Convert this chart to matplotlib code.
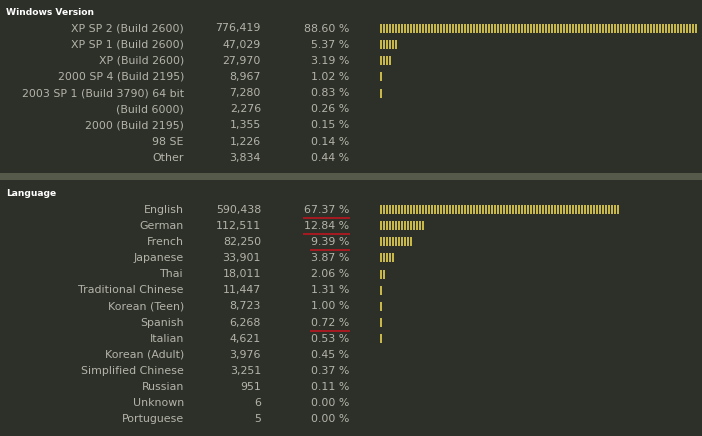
import matplotlib
matplotlib.use("Agg")
import matplotlib.pyplot as plt

# data
win_labels = ["XP SP 2 (Build 2600)", "XP SP 1 (Build 2600)", "XP (Build 2600)",
              "2000 SP 4 (Build 2195)", "2003 SP 1 (Build 3790) 64 bit",
              "(Build 6000)", "2000 (Build 2195)", "98 SE", "Other"]
win_counts = [776419, 47029, 27970, 8967, 7280, 2276, 1355, 1226, 3834]
win_pct = [88.60, 5.37, 3.19, 1.02, 0.83, 0.26, 0.15, 0.14, 0.44]

lang_labels = ["English", "German", "French", "Japanese", "Thai",
               "Traditional Chinese", "Korean (Teen)", "Spanish", "Italian",
               "Korean (Adult)", "Simplified Chinese", "Russian", "Unknown",
               "Portuguese"]
lang_counts = [590438, 112511, 82250, 33901, 18011, 11447, 8723, 6268, 4621,
               3976, 3251, 951, 6, 5]
lang_pct = [67.37, 12.84, 9.39, 3.87, 2.06, 1.31, 1.00, 0.72, 0.53, 0.45,
            0.37, 0.11, 0.00, 0.00]
# percentages marked with a red underline
lang_marked = ["English", "German", "French", "Spanish"]

BG = "#2c3028"
TXT = "#b4b4aa"
BAR = "#c8b84a"
SEP = "#555a4a"
PX_PER_PCT = 3.58
SEG = 3.0
FS = 7.9

fig = plt.figure(figsize=(7.02, 4.36), dpi=100, facecolor=BG)
ax = fig.add_axes([0, 0, 1, 1])
ax.set_facecolor(BG)
ax.set_xlim(0, 702)
ax.set_ylim(436, 0)
ax.axis("off")

# separator band between sections
ax.axhspan(172.5, 179.5, color=SEP, lw=0)

underline = []


def section(title, title_y, y0, labels, counts, pcts, marked=()):
    ax.text(6, title_y, title, color="white", fontsize=6.6, fontweight="bold",
            va="center", ha="left")
    for i, (lab, cnt, p) in enumerate(zip(labels, counts, pcts)):
        y = y0 + i * 16.15
        ax.text(184, y, lab, color=TXT, fontsize=FS, ha="right", va="center")
        ax.text(261, y, f"{cnt:,}", color=TXT, fontsize=FS, ha="right", va="center")
        t = ax.text(349, y, f"{p:.2f} %", color=TXT, fontsize=FS,
                    ha="right", va="center")
        # segmented bar
        n = int(p * PX_PER_PCT / SEG + 0.4)
        xs = [380 + k * SEG for k in range(n)]
        if xs:
            ax.bar(xs, [9] * n, width=2.1, bottom=y - 4.5, align="edge",
                   color=BAR, lw=0)
        if lab in marked:
            underline.append((t, y))


section("Windows Version", 12.5, 28.5, win_labels, win_counts, win_pct)
section("Language", 193.5, 209.5, lang_labels, lang_counts, lang_pct, lang_marked)

fig.canvas.draw()
r = fig.canvas.get_renderer()
inv = ax.transData.inverted()
for t, y in underline:
    bb = t.get_window_extent(r)
    x0 = inv.transform((bb.x0, 0))[0]
    ax.plot([x0 - 1, 350], [y + 8, y + 8], color="#c8141e", lw=1.1,
            solid_capstyle="butt")

fig.savefig("out.png", dpi=100, facecolor=BG)
